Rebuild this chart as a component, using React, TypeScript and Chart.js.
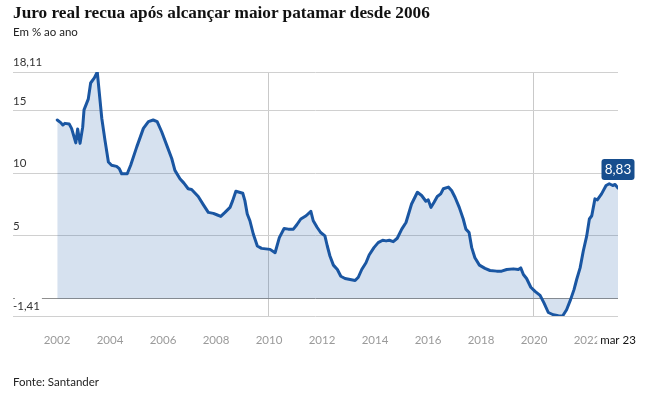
import React, { useEffect, useRef } from "react";
import { Chart, registerables } from "chart.js";

Chart.register(...registerables);

// Decimal year of each observation (Jan 2002 .. Mar 2023)
const periods = [
  2002.01, 2002.14, 2002.22, 2002.3, 2002.46, 2002.55, 2002.71, 2002.78, 2002.87, 2002.97,
  2003.02, 2003.18, 2003.27, 2003.41, 2003.52, 2003.69, 2003.81, 2003.94,
  2004.06, 2004.25, 2004.35, 2004.44, 2004.65, 2004.78,
  2005.01, 2005.26, 2005.45, 2005.63, 2005.78, 2005.95,
  2006.14, 2006.33, 2006.45, 2006.64, 2006.79, 2006.95,
  2007.08, 2007.33, 2007.52, 2007.71, 2007.9,
  2008.03, 2008.18, 2008.34, 2008.53, 2008.63, 2008.75,
  2009.01, 2009.09, 2009.18, 2009.28, 2009.41, 2009.56, 2009.72,
  2010.04, 2010.23, 2010.39, 2010.57, 2010.73, 2010.92,
  2011.05, 2011.2, 2011.4, 2011.58, 2011.67, 2011.82, 2011.95,
  2012.11, 2012.2, 2012.3, 2012.43, 2012.58, 2012.71, 2012.87,
  2013.06, 2013.25, 2013.37, 2013.5, 2013.66, 2013.78, 2013.96,
  2014.12, 2014.29, 2014.42, 2014.54, 2014.69, 2014.84,
  2015.01, 2015.17, 2015.38, 2015.6, 2015.76, 2015.92,
  2016.01, 2016.11, 2016.23, 2016.35, 2016.48, 2016.58, 2016.77, 2016.89,
  2017.02, 2017.18, 2017.33, 2017.43, 2017.55, 2017.65, 2017.77, 2017.94,
  2018.15, 2018.34, 2018.59, 2018.78, 2018.97,
  2019.22, 2019.41, 2019.5, 2019.6, 2019.72, 2019.88,
  2020.04, 2020.23, 2020.38, 2020.54, 2020.73, 2020.92,
  2021.08, 2021.23, 2021.38, 2021.51, 2021.61, 2021.74, 2021.86, 2021.99,
  2022.09, 2022.18, 2022.3, 2022.39, 2022.55, 2022.72, 2022.84, 2022.97,
  2023.06, 2023.17,
];

// Real interest rate, % per year
const realRate = [
  14.27, 14.06, 13.87, 14.0, 13.95, 13.6, 12.44, 13.55, 12.4, 13.7,
  15.08, 15.94, 17.23, 17.64, 18.11, 14.41, 12.66, 10.91,
  10.65, 10.56, 10.38, 9.97, 9.97, 10.65,
  12.12, 13.6, 14.14, 14.27, 14.14, 13.33,
  12.26, 11.19, 10.24, 9.57, 9.22, 8.77,
  8.71, 8.15, 7.5, 6.88, 6.8,
  6.69, 6.56, 6.88, 7.28, 7.82, 8.57,
  8.41, 7.82, 6.75, 6.21, 5.13, 4.19, 4.0,
  3.92, 3.65, 4.86, 5.59, 5.54, 5.54,
  5.89, 6.35, 6.61, 6.96, 6.21, 5.67, 5.27,
  5.0, 4.19, 3.39, 2.66, 2.31, 1.77, 1.59,
  1.51, 1.43, 1.69, 2.31, 2.85, 3.47, 4.06,
  4.46, 4.65, 4.6, 4.65, 4.54, 4.81,
  5.54, 6.07, 7.55, 8.49, 8.23, 7.77,
  7.88, 7.28, 7.69, 8.15, 8.36, 8.77, 8.9, 8.63,
  8.09, 7.28, 6.35, 5.54, 5.27, 4.06, 3.25, 2.66,
  2.4, 2.23, 2.18, 2.18, 2.31,
  2.36, 2.31, 2.44, 1.91, 1.59, 0.89,
  0.56, 0.24, -0.38, -1.13, -1.31, -1.38,
  -1.41, -0.91, -0.1, 0.7, 1.51, 2.44, 3.79, 5.0,
  6.35, 6.61, 7.96, 7.88, 8.36, 9.03, 9.17, 9.03,
  9.11, 8.83,
];

const xTickYears = [2002, 2004, 2006, 2008, 2010, 2012, 2014, 2016, 2018, 2020, 2022];
const xGridYears = [2010, 2020];
const lastPeriod = 2023.17;
const lastPeriodLabel = "mar 23";
const yTicks = [-1.41, 0, 5, 10, 15, 18.11];
const xMin = 2000.34;

const LINE = "#1a56a2";
const FILL = "rgba(27,88,165,0.18)";
const FONT = "Lato";

const fmt = (v: number) => String(v).replace(".", ",");

const endLabelPlugin = {
  id: "endLabel",
  afterDatasetsDraw(chart: any) {
    const meta = chart.getDatasetMeta(0);
    const pt = meta.data[meta.data.length - 1];
    if (!pt) return;
    const ctx = chart.ctx;
    const text = fmt(realRate[realRate.length - 1]);
    ctx.save();
    ctx.font = `13.5px ${FONT}`;
    const w = 33;
    const h = 21;
    const x = pt.x - w / 2;
    const y = pt.y - 8 - h;
    ctx.fillStyle = "#174e8e";
    ctx.beginPath();
    ctx.roundRect(x, y, w, h, 3);
    ctx.fill();
    ctx.fillStyle = "#ffffff";
    ctx.textAlign = "center";
    ctx.textBaseline = "middle";
    ctx.fillText(text, pt.x, y + h / 2 + 0.5);
    ctx.restore();
  },
};

export default function App() {
  const ref = useRef<HTMLCanvasElement>(null);
  useEffect(() => {
    document.body.style.margin = "0";
    const chart = new Chart(ref.current as HTMLCanvasElement, {
      type: "line",
      data: {
        datasets: [
          {
            data: periods.map((x, i) => ({ x, y: realRate[i] })),
            borderColor: LINE,
            borderWidth: 3,
            backgroundColor: FILL,
            fill: "origin",
            pointRadius: 0,
            tension: 0,
            borderJoinStyle: "round",
            borderCapStyle: "round",
          },
        ],
      },
      options: {
        responsive: false,
        animation: false,
        layout: { padding: { left: 13, right: 27, top: 72, bottom: 47 } },
        plugins: { legend: { display: false }, tooltip: { enabled: false } },
        scales: {
          x: {
            type: "linear",
            min: xMin,
            max: lastPeriod,
            afterBuildTicks: (s: any) => {
              s.ticks = [...xTickYears.map((v) => ({ value: v })), { value: lastPeriod }];
            },
            afterFit: (s: any) => {
              s.height = 30;
              s.paddingLeft = 0;
              s.paddingRight = 0;
            },
            ticks: {
              autoSkip: false,
              maxRotation: 0,
              padding: 17,
              font: { family: FONT, size: 11.5 },
              color: (c: any) => (c.tick && c.tick.value === lastPeriod ? "#111" : "#9a9a9a"),
              callback: (v: any) => (v === lastPeriod ? lastPeriodLabel : String(v)),
              showLabelBackdrop: (c: any) => !!(c.tick && c.tick.value === lastPeriod),
              backdropColor: "#ffffff",
              backdropPadding: { left: 3, right: 2, top: 1, bottom: 1 },
            } as any,
            grid: {
              drawTicks: false,
              color: (c: any) =>
                c.tick && xGridYears.includes(c.tick.value) ? "#c9c9c9" : "rgba(0,0,0,0)",
            },
            border: { display: false },
          },
          y: {
            min: yTicks[0],
            max: yTicks[yTicks.length - 1],
            afterBuildTicks: (s: any) => {
              s.ticks = yTicks.map((v) => ({ value: v }));
            },
            afterFit: (s: any) => {
              s.width = 0;
              s.paddingTop = 0;
              s.paddingBottom = 0;
            },
            ticks: {
              mirror: true,
              padding: 0,
              labelOffset: -10,
              font: { family: FONT, size: 11.5 },
              color: "#333333",
              callback: (v: any) => (v === 0 ? "" : fmt(v)),
              showLabelBackdrop: (c: any) => !!(c.tick && c.tick.value === yTicks[0]),
              backdropColor: "#ffffff",
              backdropPadding: { left: -2, right: 2, top: 2, bottom: 0 },
            } as any,
            grid: {
              drawTicks: false,
              color: (c: any) => (c.tick && c.tick.value === 0 ? "#8f8f8f" : "#d0d0d0"),
            },
            border: { display: false },
          },
        },
      } as any,
      plugins: [endLabelPlugin],
    });
    return () => chart.destroy();
  }, []);

  return (
    <div style={{ position: "relative", width: 645, height: 393, background: "#fff" }}>
      <canvas ref={ref} width={645} height={393} style={{ position: "absolute", left: 0, top: 0 }} />
      <div
        style={{
          position: "absolute",
          left: 13,
          top: 4,
          font: "bold 17.25px 'Liberation Serif'",
          lineHeight: "17px",
          color: "#111",
          whiteSpace: "nowrap",
        }}
      >
        Juro real recua após alcançar maior patamar desde 2006
      </div>
      <div
        style={{
          position: "absolute",
          left: 13,
          top: 25,
          font: `11.5px ${FONT}`,
          lineHeight: "14px",
          color: "#222",
          whiteSpace: "nowrap",
        }}
      >
        Em % ao ano
      </div>
      <div
        style={{
          position: "absolute",
          left: 13,
          top: 375,
          font: `11.5px ${FONT}`,
          lineHeight: "14px",
          color: "#222",
          whiteSpace: "nowrap",
        }}
      >
        Fonte: Santander
      </div>
    </div>
  );
}
